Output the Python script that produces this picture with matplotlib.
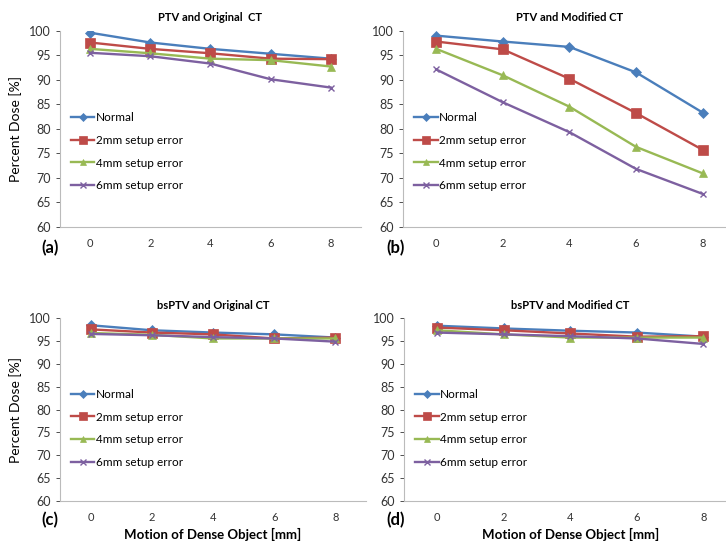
import matplotlib
matplotlib.use('Agg')
import matplotlib.pyplot as plt

plt.rcParams['font.family'] = ['Lato', 'DejaVu Sans']

motion = [0, 2, 4, 6, 8]
series_names = ['Normal', '2mm setup error', '4mm setup error', '6mm setup error']

# percent dose per panel, one list per setup error
ptv_orig = [
    [99.6, 97.6, 96.3, 95.3, 94.3],
    [97.6, 96.3, 95.4, 94.3, 94.2],
    [96.3, 95.4, 94.3, 94.0, 92.7],
    [95.5, 94.8, 93.3, 90.1, 88.4],
]
ptv_mod = [
    [99.0, 97.8, 96.7, 91.5, 83.3],
    [97.8, 96.2, 90.2, 83.2, 75.7],
    [96.3, 90.9, 84.5, 76.3, 70.9],
    [92.1, 85.4, 79.3, 71.8, 66.7],
]
bsptv_orig = [
    [98.5, 97.4, 96.9, 96.5, 95.8],
    [97.6, 96.9, 96.5, 95.6, 95.8],
    [96.8, 96.4, 95.6, 95.6, 95.6],
    [96.6, 96.3, 95.9, 95.6, 94.9],
]
bsptv_mod = [
    [98.4, 97.8, 97.3, 96.9, 96.0],
    [98.0, 97.4, 96.7, 96.0, 96.1],
    [97.4, 96.5, 95.8, 95.8, 95.8],
    [96.9, 96.5, 96.1, 95.6, 94.4],
]

titles = ['PTV and Original  CT', 'PTV and Modified CT',
          'bsPTV and Original CT', 'bsPTV and Modified CT']
panel_tags = ['(a)', '(b)', '(c)', '(d)']

colors = ['#4A7EBB', '#BE4B48', '#98B954', '#7D60A0']
markers = ['D', 's', '^', 'x']
msizes = [5, 7, 6, 5]

fig = plt.figure(figsize=(7.26, 5.49), dpi=100)
rects = [
    [0.0826, 0.587, 0.4146, 0.357],
    [0.555, 0.587, 0.4587, 0.357],
    [0.0826, 0.088, 0.4215, 0.332],
    [0.556, 0.088, 0.4587, 0.332],
]
legend_y = [0.61, 0.61, 0.64, 0.64]
datasets = [ptv_orig, ptv_mod, bsptv_orig, bsptv_mod]

for i, (rect, data) in enumerate(zip(rects, datasets)):
    ax = fig.add_axes(rect)
    xs = range(len(motion))
    for vals, name, c, m, ms in zip(data, series_names, colors, markers, msizes):
        ax.plot(xs, vals, color=c, marker=m, markersize=ms, lw=1.7,
                markeredgewidth=1 if m == 'x' else 0.5, label=name)
    ax.set_xlim(-0.5, 4.5)
    ax.set_ylim(60, 100)
    ax.set_yticks(range(60, 101, 5))
    ax.set_xticks(list(xs))
    ax.set_xticklabels([str(m) for m in motion])
    ax.tick_params(axis='x', length=0, labelsize=8, pad=8, colors='#333333')
    ax.tick_params(axis='y', length=3, labelsize=9, colors='#333333',
                   direction='out', width=0.6)
    for side in ['top', 'right']:
        ax.spines[side].set_visible(False)
    for side in ['left', 'bottom']:
        ax.spines[side].set_color('#bbbbbb')
        ax.spines[side].set_linewidth(0.8)
    ax.set_title(titles[i], fontsize=8, fontweight='bold', pad=7)
    if i % 2 == 0:
        ax.set_ylabel('Percent Dose [%]', fontsize=10, labelpad=5)
    if i >= 2:
        ax.set_xlabel('Motion of Dense Object [mm]', fontsize=9.5,
                      fontweight='bold', labelpad=4)
    ax.legend(loc='upper left', bbox_to_anchor=(0.02, legend_y[i]),
              frameon=False, fontsize=8.5, handlelength=2.0,
              handletextpad=0.1, labelspacing=1.0, borderaxespad=0,
              markerscale=0.75)

    tx = 50 / 726 if i % 2 == 0 else 396 / 726
    ty = 1 - (248 / 549) if i < 2 else 1 - (520 / 549)
    fig.text(tx, ty, panel_tags[i], fontsize=12, fontweight='bold',
             ha='center', va='center')

fig.savefig('out.png', dpi=100)
